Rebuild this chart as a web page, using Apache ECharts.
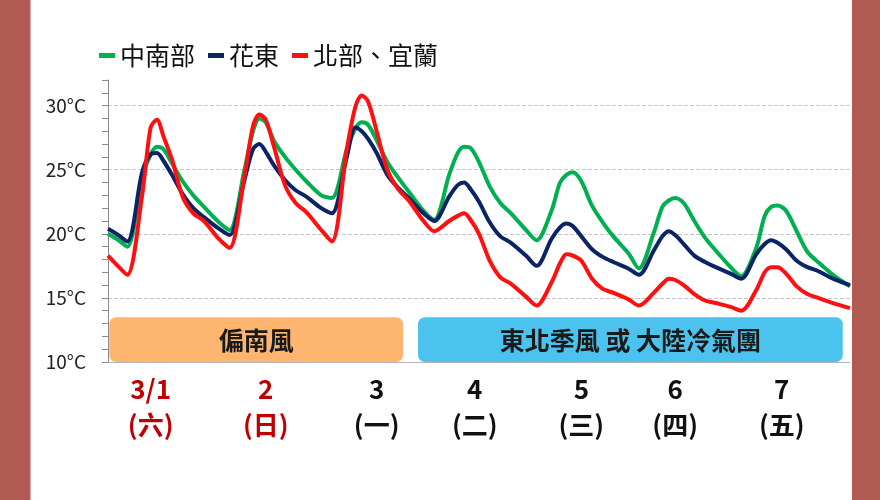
<!DOCTYPE html>
<html>
<head>
<meta charset="utf-8">
<script src="https://cdn.jsdelivr.net/npm/echarts@6/dist/echarts.min.js"></script>
<style>
  html, body { margin: 0; padding: 0; background: #fff; }
  #main { width: 880px; height: 500px; }
</style>
</head>
<body>
<div id="main"></div>
<script>
// 時間軸（小時，從 3/1 起算）
var hours = [0,
  2, 4.5, 8, 10, 11.5, 13, 15, 17.5, 20, 22.5,
  26, 28.5, 32, 34, 35.5, 37, 39, 41.5, 44, 46.5,
  50, 52.5, 56, 58, 59.5, 61, 63, 65.5, 68, 70.5,
  74, 76.5, 80, 82, 83.5, 85, 87, 89.5, 92, 94.5,
  98, 100.5, 104, 106, 107.5, 109, 111, 113.5, 116, 118.5,
  122, 124.5, 128, 130, 131.5, 133, 135, 137.5, 140, 142.5,
  146, 148.5, 152, 154, 155.5, 157, 159, 161.5, 164, 166.5,
  170, 174];

// 各區溫度
var central = [20.0,
  19.6, 19.0, 24.4, 26.2, 26.8, 26.6, 25.5, 24.1, 23.0, 22.1,
  20.9, 20.3, 25.0, 28.0, 29.0, 28.7, 27.2, 26.0, 25.0, 24.1,
  23.0, 22.8, 26.6, 28.2, 28.7, 28.5, 27.3, 25.6, 24.4, 23.3,
  21.8, 21.1, 24.6, 26.3, 26.8, 26.7, 25.6, 23.7, 22.4, 21.6,
  20.3, 19.5, 21.8, 24.0, 24.6, 24.8, 24.1, 22.2, 20.9, 19.8,
  18.5, 17.3, 20.1, 22.1, 22.6, 22.8, 22.4, 21.0, 19.7, 18.7,
  17.4, 16.7, 18.9, 21.4, 22.1, 22.2, 21.8, 20.2, 18.6, 17.8,
  16.8, 15.9];
var east = [20.4,
  20.0, 19.4, 24.8, 26.2, 26.3, 25.7, 24.6, 23.1, 22.0, 21.3,
  20.4, 19.9, 24.2, 26.6, 27.0, 26.4, 25.3, 24.2, 23.4, 22.9,
  22.0, 21.6, 26.0, 28.3, 28.0, 27.4, 26.3, 24.6, 23.6, 22.8,
  21.6, 21.0, 22.9, 23.8, 24.0, 23.5, 22.5, 20.9, 19.8, 19.3,
  18.3, 17.5, 19.6, 20.5, 20.8, 20.6, 19.8, 18.8, 18.2, 17.8,
  17.3, 16.8, 18.7, 19.8, 20.2, 19.9, 19.2, 18.3, 17.8, 17.4,
  16.9, 16.5, 18.4, 19.2, 19.5, 19.3, 18.8, 17.9, 17.4, 17.1,
  16.5, 16.0];
var north = [18.3,
  17.6, 16.8, 23.0, 28.3, 28.9, 27.6, 25.8, 22.9, 21.6, 21.0,
  19.6, 18.9, 24.5, 28.4, 29.3, 28.9, 26.7, 23.8, 22.4, 21.7,
  20.3, 19.4, 26.6, 29.9, 30.8, 30.3, 28.0, 25.0, 23.5, 22.6,
  21.0, 20.2, 21.0, 21.4, 21.6, 21.1, 20.0, 17.9, 16.6, 16.1,
  15.1, 14.4, 16.2, 17.7, 18.4, 18.3, 17.9, 16.5, 15.7, 15.4,
  14.9, 14.4, 15.4, 16.1, 16.5, 16.4, 16.0, 15.3, 14.8, 14.6,
  14.3, 14.0, 15.6, 17.0, 17.4, 17.4, 16.9, 15.9, 15.3, 15.0,
  14.6, 14.2];

var seriesNames = ['中南部', '花東', '北部、宜蘭'];

// 日期標籤
var dayHours = [10, 37, 63, 86, 111, 133, 158];
var dayDates = ['3/1', '2', '3', '4', '5', '6', '7'];
var dayWeeks = ['(六)', '(日)', '(一)', '(二)', '(三)', '(四)', '(五)'];
var holiday = [true, true, false, false, false, false, false];

// 天氣型態區段
var bandStart = [0.3, 72.7];
var bandEnd = [69.2, 172.3];
var bandText = ['偏南風', '東北季風 或 大陸冷氣團'];

var FONT = '"Noto Sans CJK TC", "Noto Sans", sans-serif';
var bandColors = ['#fdb56f', '#4cc3ef'];

function pairs(vals) {
  return hours.map(function (h, i) { return [h, vals[i]]; });
}

var chart = echarts.init(document.getElementById('main'));

var option = {
  backgroundColor: '#ffffff',
  animation: false,
  graphic: [
    { type: 'rect', shape: { x: 0, y: 0, width: 30, height: 500 }, style: { fill: '#b15a54' }, z: -10 },
    { type: 'rect', shape: { x: 30, y: 0, width: 1, height: 500 }, style: { fill: '#e2aaa6' }, z: -10 },
    { type: 'rect', shape: { x: 852, y: 0, width: 28, height: 500 }, style: { fill: '#b15a54' }, z: -10 }
  ],
  legend: {
    data: seriesNames,
    left: 99,
    top: 43,
    padding: 0,
    icon: 'rect',
    itemWidth: 16,
    itemHeight: 5,
    itemGap: 13,
    textStyle: { fontFamily: FONT, fontSize: 25, color: '#111' }
  },
  grid: { left: 108, right: 30, top: 80, bottom: 138 },
  xAxis: {
    type: 'value',
    min: 0,
    max: 174,
    splitLine: { show: false },
    axisTick: { show: false },
    axisLine: { show: true, lineStyle: { color: '#b5b5b5', width: 1 } },
    axisLabel: {
      customValues: dayHours,
      margin: 9,
      formatter: function (v) {
        var i = dayHours.indexOf(v);
        if (i < 0) return '';
        var k = holiday[i] ? 'r' : 'k';
        return '{' + k + '|' + dayDates[i] + '}\n{' + k + '|' + dayWeeks[i] + '}';
      },
      rich: {
        r: { color: '#c00000', fontFamily: FONT, fontSize: 26, fontWeight: 'bold', lineHeight: 36 },
        k: { color: '#111111', fontFamily: FONT, fontSize: 26, fontWeight: 'bold', lineHeight: 36 }
      }
    }
  },
  yAxis: [{
    type: 'value',
    min: 10,
    max: 32,
    interval: 1,
    splitLine: { show: false },
    axisLine: { show: true, lineStyle: { color: '#8a8a8a', width: 1 } },
    axisTick: { show: true, length: 6, lineStyle: { color: '#8a8a8a' } },
    axisLabel: {
      margin: 22,
      fontFamily: FONT,
      fontSize: 19,
      color: '#222',
      formatter: function (v) {
        return (v % 5 === 0 && v < 32) ? v + '°C' : '';
      }
    }
  }, {
    type: 'value',
    min: 10,
    max: 32,
    interval: 5,
    position: 'left',
    axisLine: { show: false },
    axisTick: { show: false },
    axisLabel: { show: false },
    splitLine: {
      show: true,
      showMinLine: false,
      showMaxLine: false,
      lineStyle: { color: '#c8c8c8', type: [4, 2], width: 1 }
    }
  }],
  series: [{
    name: seriesNames[0],
    type: 'line',
    data: pairs(central),
    smooth: 0.3,
    showSymbol: false,
    color: '#00b050',
    lineStyle: { width: 4, color: '#00b050' },
    z: 3
  }, {
    name: seriesNames[1],
    type: 'line',
    data: pairs(east),
    smooth: 0.3,
    showSymbol: false,
    color: '#0b2466',
    lineStyle: { width: 4, color: '#0b2466' },
    z: 4
  }, {
    name: seriesNames[2],
    type: 'line',
    data: pairs(north),
    smooth: 0.3,
    showSymbol: false,
    color: '#ff1010',
    lineStyle: { width: 4, color: '#ff1010' },
    z: 5
  }, {
    type: 'custom',
    silent: true,
    z: 6,
    data: bandStart.map(function (s, i) { return [s, bandEnd[i]]; }),
    renderItem: function (params, api) {
      var i = params.dataIndex;
      var p0 = api.coord([api.value(0), 13.5]);
      var p1 = api.coord([api.value(1), 10]);
      return {
        type: 'group',
        children: [{
          type: 'rect',
          shape: { x: p0[0], y: p0[1], width: p1[0] - p0[0], height: p1[1] - p0[1], r: 7 },
          style: { fill: bandColors[i] }
        }, {
          type: 'text',
          style: {
            text: bandText[i],
            x: (p0[0] + p1[0]) / 2,
            y: (p0[1] + p1[1]) / 2 + 1,
            align: 'center',
            verticalAlign: 'middle',
            fontFamily: FONT,
            fontSize: 25,
            fontWeight: 'bold',
            fill: '#1a1a1a'
          }
        }]
      };
    }
  }]
};

chart.setOption(option);
</script>
</body>
</html>
